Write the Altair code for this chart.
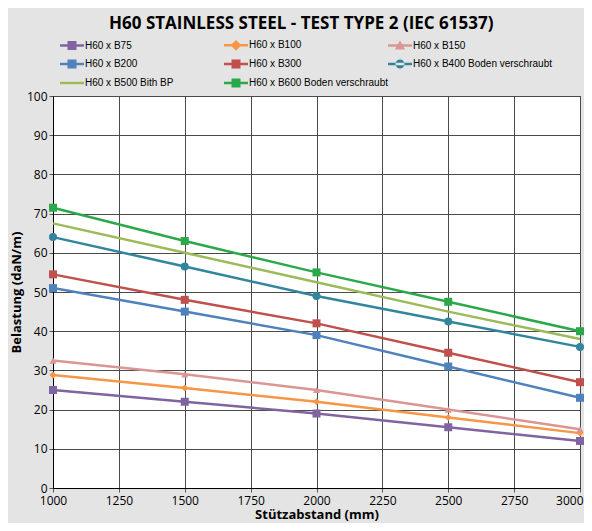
import altair as alt
import pandas as pd

x_values = [1000, 1500, 2000, 2500, 3000]
series_names = [
    "H60 x B75", "H60 x B100", "H60 x B150", "H60 x B200",
    "H60 x B300", "H60 x B400 Boden verschraubt", "H60 x B500 Bith BP",
    "H60 x B600 Boden verschraubt",
]
b75 = [25, 22, 19, 15.5, 12]
b100 = [28.8, 25.5, 22, 18, 14]
b150 = [32.5, 29, 25, 20, 15]
b200 = [51, 45, 39, 31, 23]
b300 = [54.5, 48, 42, 34.5, 27]
b400 = [64, 56.5, 49, 42.5, 36]
b500 = [67.5, 60, 52.5, 45, 38]
b600 = [71.5, 63, 55, 47.5, 40]
all_values = [b75, b100, b150, b200, b300, b400, b500, b600]
colors = ["#8064A2", "#F79646", "#D99694", "#4F81BD", "#C0504D", "#31859C", "#9BBB59", "#2BA84A"]
marker_kind = ["square", "diamond", "triangle", "square", "square", "circle", "none", "square"]

rows = []
for name, vals, kind in zip(series_names, all_values, marker_kind):
    for xv, yv in zip(x_values, vals):
        rows.append({"x": xv, "y": yv, "series": name, "kind": kind})
df = pd.DataFrame(rows)

sq = "M-1.5,-1.5H1.5V1.5H-1.5Z"
dm = "M0,-1.8L1.8,0L0,1.8L-1.8,0Z"
tr = "M0,-1.7L1.7,1.3H-1.7Z"
ci = "M-1.5,0A1.5,1.5 0 1,0 1.5,0A1.5,1.5 0 1,0 -1.5,0Z"
stub = "M-4,-0.4H4V0.4H-4Z"
legend_paths = {
    "square": stub + sq, "diamond": stub + dm, "triangle": stub + tr,
    "circle": stub + ci, "none": stub,
}
shape_range = [legend_paths[k] for k in marker_kind]

# mark colour scale (domain listed in reverse so it stays separate from the legend scales)
mark_color_scale = alt.Scale(domain=series_names[::-1], range=colors[::-1])
xs = alt.X("x:Q", scale=alt.Scale(domain=[1000, 3000], nice=False),
           axis=alt.Axis(values=[1000, 1250, 1500, 1750, 2000, 2250, 2500, 2750, 3000],
                         title="Stützabstand (mm)", format="d", labelFlush=False,
                         labelAlign=alt.expr("datum.value == 3000 ? 'right' : 'center'"),
                         labelOffset=alt.expr("datum.value == 3000 ? 3 : 0")))
ys = alt.Y("y:Q", scale=alt.Scale(domain=[0, 100], nice=False),
           axis=alt.Axis(values=list(range(0, 101, 10)), title="Belastung (daN/m)"))

base = alt.Chart(df)
lines = base.mark_line(strokeWidth=2.5).encode(
    x=xs, y=ys,
    color=alt.Color("series:N", scale=mark_color_scale, legend=None),
    detail="series:N",
)
layers = [lines]
for kind, shp, sz in [("square", "square", 64), ("diamond", "diamond", 50),
                      ("triangle", "triangle-up", 50), ("circle", "circle", 64)]:
    layers.append(
        base.transform_filter(alt.datum.kind == kind).mark_point(
            filled=True, opacity=1, shape=shp, size=sz
        ).encode(x=xs, y=ys, color=alt.Color("series:N", scale=mark_color_scale, legend=None))
    )

legend_def = alt.Legend(title=None, orient="none", legendX=14, legendY=-56, columns=3,
                        direction="horizontal")
legend_layer = base.mark_point(filled=True, opacity=0, size=36).encode(
    x=xs, y=ys,
    fill=alt.Fill("series:N", scale=alt.Scale(domain=series_names, range=colors),
                  legend=legend_def),
    shape=alt.Shape("series:N", scale=alt.Scale(domain=series_names, range=shape_range),
                    legend=legend_def),
)
layers.append(legend_layer)

chart = alt.layer(*layers).properties(
    width=527, height=392,
    title=alt.TitleParams("H60 STAINLESS STEEL - TEST TYPE 2 (IEC 61537)",
                          font="Open Sans", fontSize=17, fontWeight="bold",
                          color="#000000", offset=7, anchor="middle", frame="bounds"),
    autosize=alt.AutoSizeParams(type="none"),
    padding={"left": 45, "top": 88, "right": 4, "bottom": 35},
    background="#e4e4e4",
).configure_view(
    fill="white", stroke="black", strokeWidth=1,
).configure_axis(
    grid=True, gridColor="#4a4a4a", gridWidth=1, gridOpacity=1,
    domainColor="black", tickColor="#555555", tickSize=4,
    labelFont="Open Sans", labelFontSize=12, labelColor="#000000",
    titleFont="Open Sans", titleFontSize=13, titleFontWeight="bold", titleColor="#000000",
).configure_axisY(
    titlePadding=3, labelPadding=2,
).configure_axisX(
    titlePadding=2, labelPadding=3,
).configure_legend(
    labelFont="Liberation Sans", labelFontSize=10, labelColor="#000000",
    symbolSize=36, symbolOpacity=1, symbolStrokeWidth=0,
    gridAlign="all", columnPadding=0, rowPadding=8,
    padding=0, labelOffset=8,
)

chart.save("out.html", embed_options={"renderer": "svg", "actions": False})
